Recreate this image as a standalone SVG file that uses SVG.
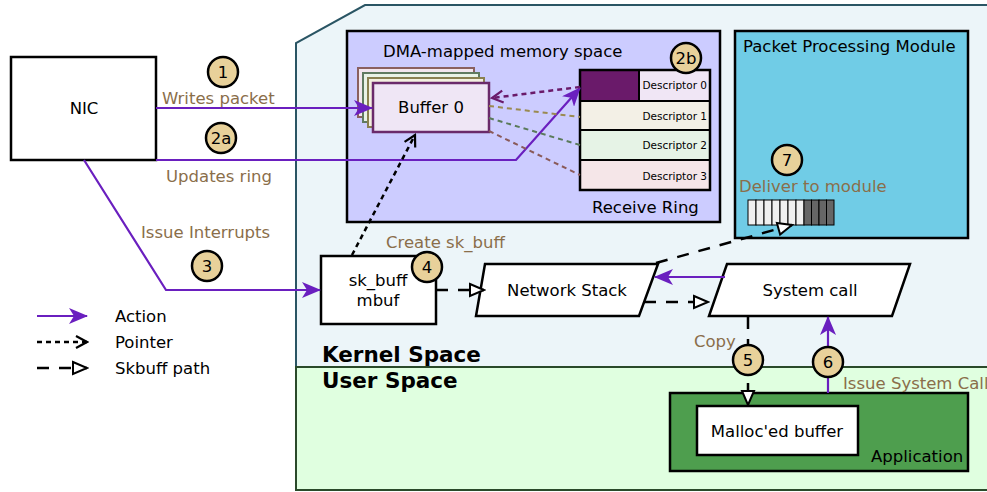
<svg xmlns="http://www.w3.org/2000/svg" width="987" height="492" viewBox="0 0 987 492">
<defs>
<marker id="actA" markerWidth="20" markerHeight="16" refX="18" refY="8" orient="auto" markerUnits="userSpaceOnUse">
<path d="M0,0 L19,8 L0,16 L5,8 Z" fill="#6a1fbf"/>
</marker>
<marker id="ptr" markerWidth="16" markerHeight="16" refX="14" refY="8" orient="auto" markerUnits="userSpaceOnUse">
<path d="M3,2 L14,8 L3,14" fill="none" stroke="#000" stroke-width="2.2"/>
</marker>
<marker id="ptrP" markerWidth="16" markerHeight="16" refX="14" refY="8" orient="auto" markerUnits="userSpaceOnUse">
<path d="M3,2 L14,8 L3,14" fill="none" stroke="#6a1a6a" stroke-width="2.2"/>
</marker>
<marker id="skb" markerWidth="18" markerHeight="16" refX="16" refY="8" orient="auto" markerUnits="userSpaceOnUse">
<path d="M2,2 L16,8 L2,14 Z" fill="#fff" stroke="#000" stroke-width="2"/>
</marker>
</defs>
<style>
text{font-family:"DejaVu Sans",sans-serif;font-size:16.5px;fill:#000}
.lbl{fill:#8a6e4a}
.node{fill:#fff;stroke:#000;stroke-width:2.5}
.num{fill:#e8d19a;stroke:#000;stroke-width:2.5}
.act{fill:none;stroke:#6a1fbf;stroke-width:2.2}
.ptr{fill:none;stroke:#000;stroke-width:2.5;stroke-dasharray:5,4}
.skb{fill:none;stroke:#000;stroke-width:2.5;stroke-dasharray:12,10}
.desc{font-size:10.5px}
.big{font-size:21.5px;font-weight:bold}
</style>

<g id="kernel-space">
<path d="M296,490 L296,43 L365,5 L990,5 L990,367 L296,367" fill="#ecf5f9" stroke="#2a5564" stroke-width="2"/>
</g>
<g id="user-space">
<rect x="296" y="367" width="694" height="123" fill="#e0ffe0" stroke="#2a4a2a" stroke-width="2"/>
</g>

<g id="dma">
<rect x="347" y="31" width="373" height="191" fill="#ccccff" stroke="#000" stroke-width="2.5"/>
<text x="383" y="57">DMA-mapped memory space</text>
</g>

<g id="buffers">
<rect x="358" y="68" width="116" height="49" fill="#f3e6ee" stroke="#8a6060" stroke-width="2"/>
<rect x="363" y="73" width="116" height="49" fill="#e9f2e6" stroke="#607a60" stroke-width="2"/>
<rect x="368" y="78" width="116" height="49" fill="#f3f0e0" stroke="#8a8050" stroke-width="2"/>
<rect x="373" y="83" width="116" height="49" fill="#efe6f5" stroke="#6a2a6a" stroke-width="2.5"/>
<text x="431" y="113" text-anchor="middle">Buffer 0</text>
</g>

<g id="receive-ring">
<rect x="580" y="70" width="130" height="31" fill="#f0e6f5" stroke="#000" stroke-width="2"/>
<rect x="580" y="70" width="59" height="31" fill="#6a1a6a" stroke="#000" stroke-width="2"/>
<rect x="580" y="101" width="130" height="29" fill="#f3f0e6" stroke="#000" stroke-width="2"/>
<rect x="580" y="130" width="130" height="30" fill="#e6f3e6" stroke="#000" stroke-width="2"/>
<rect x="580" y="160" width="130" height="30" fill="#f5e6e8" stroke="#000" stroke-width="2"/>
<rect x="580" y="70" width="130" height="120" fill="none" stroke="#000" stroke-width="2.5"/>
<text class="desc" x="707" y="89" text-anchor="end">Descriptor 0</text>
<text class="desc" x="707" y="120" text-anchor="end">Descriptor 1</text>
<text class="desc" x="707" y="149" text-anchor="end">Descriptor 2</text>
<text class="desc" x="707" y="180" text-anchor="end">Descriptor 3</text>
<text x="592" y="213">Receive Ring</text>
</g>

<g id="ppm">
<rect x="735" y="31" width="233" height="207" fill="#70cce6" stroke="#000" stroke-width="2.5"/>
<text x="743" y="52">Packet Processing Module</text>
<text class="lbl" x="739" y="192">Deliver to module</text>
<g id="queue" stroke="#000" stroke-width="1">
<rect x="748" y="200" width="8" height="25" fill="#f0f0f0"/>
<rect x="756" y="200" width="8" height="25" fill="#f0f0f0"/>
<rect x="764" y="200" width="8" height="25" fill="#f0f0f0"/>
<rect x="772" y="200" width="8" height="25" fill="#f0f0f0"/>
<rect x="780" y="200" width="8" height="25" fill="#f0f0f0"/>
<rect x="788" y="200" width="8" height="25" fill="#f0f0f0"/>
<rect x="796" y="200" width="8" height="25" fill="#f0f0f0"/>
<rect x="804" y="200" width="7.5" height="25" fill="#666"/>
<rect x="811.5" y="200" width="7.5" height="25" fill="#666"/>
<rect x="819" y="200" width="7.5" height="25" fill="#666"/>
<rect x="826.5" y="200" width="7.5" height="25" fill="#666"/>
</g>
</g>

<g id="nic">
<rect class="node" x="11" y="57" width="145" height="103"/>
<text x="84" y="114" text-anchor="middle">NIC</text>
</g>

<g id="skbuff">
<rect class="node" x="321" y="256" width="115" height="68"/>
<text x="378" y="286" text-anchor="middle">sk_buff</text>
<text x="378" y="306" text-anchor="middle">mbuf</text>
</g>

<g id="netstack">
<polygon class="node" points="485,264 658,264 639,316 476,316"/>
<text x="567" y="296" text-anchor="middle">Network Stack</text>
</g>

<g id="syscall">
<polygon class="node" points="727,264 910,264 892,316 709,316"/>
<text x="810" y="296" text-anchor="middle">System call</text>
</g>

<g id="application">
<rect x="670" y="393" width="298" height="78" fill="#4e9e4e" stroke="#000" stroke-width="2.5"/>
<text x="871" y="462">Application</text>
</g>
<g id="malloc">
<rect class="node" x="697" y="406" width="161" height="49"/>
<text x="777" y="437" text-anchor="middle">Malloc'ed buffer</text>
</g>

<g id="connectors">
<line class="act" x1="156" y1="108" x2="372" y2="108" marker-end="url(#actA)"/>
<polyline class="act" points="156,160 516,160 580,88" marker-end="url(#actA)"/>
<polyline class="act" points="84,160 166,290 320,290" marker-end="url(#actA)"/>
<line x1="580" y1="87" x2="492" y2="98" stroke="#6a1a6a" stroke-width="2.5" stroke-dasharray="5,4" marker-end="url(#ptrP)"/>
<line x1="489" y1="106" x2="580" y2="117" stroke="#9a8a50" stroke-width="2" stroke-dasharray="5,4"/>
<line x1="489" y1="118" x2="580" y2="145" stroke="#5a7a5a" stroke-width="2" stroke-dasharray="5,4"/>
<line x1="489" y1="131" x2="580" y2="175" stroke="#8a5a5a" stroke-width="2" stroke-dasharray="5,4"/>
<line class="ptr" x1="352" y1="255" x2="415" y2="135" marker-end="url(#ptr)"/>
<line class="skb" x1="436" y1="290" x2="484" y2="290" marker-end="url(#skb)"/>
<line class="act" x1="725" y1="277" x2="655" y2="277" marker-end="url(#actA)"/>
<line class="skb" x1="644" y1="302" x2="708" y2="302" marker-end="url(#skb)"/>
<line class="skb" x1="656" y1="263" x2="792" y2="225" marker-end="url(#skb)"/>
<line class="skb" x1="748" y1="317" x2="748" y2="405" marker-end="url(#skb)"/>
<line class="act" x1="828" y1="393" x2="828" y2="317" marker-end="url(#actA)"/>
</g>

<g id="labels">
<text class="lbl" x="162" y="104">Writes packet</text>
<text class="lbl" x="166" y="182">Updates ring</text>
<text class="lbl" x="141" y="238">Issue Interrupts</text>
<text class="lbl" x="386" y="248">Create sk_buff</text>
<text class="lbl" x="694" y="347">Copy</text>
<text class="lbl" x="843" y="389">Issue System Call</text>
<text class="big" x="322" y="362">Kernel Space</text>
<text class="big" x="322" y="388">User Space</text>
</g>

<g id="steps">
<circle class="num" cx="223" cy="72" r="15"/><text x="223" y="78" text-anchor="middle">1</text>
<circle class="num" cx="221" cy="138" r="15"/><text x="221" y="144" text-anchor="middle">2a</text>
<circle class="num" cx="686" cy="58" r="15"/><text x="686" y="64" text-anchor="middle">2b</text>
<circle class="num" cx="207" cy="266" r="15"/><text x="207" y="272" text-anchor="middle">3</text>
<circle class="num" cx="427" cy="267" r="15"/><text x="427" y="273" text-anchor="middle">4</text>
<circle class="num" cx="748" cy="360" r="15"/><text x="748" y="366" text-anchor="middle">5</text>
<circle class="num" cx="828" cy="362" r="15"/><text x="828" y="368" text-anchor="middle">6</text>
<circle class="num" cx="787" cy="160" r="15"/><text x="787" y="166" text-anchor="middle">7</text>
</g>

<g id="legend">
<line class="act" x1="37" y1="316" x2="87" y2="316" marker-end="url(#actA)"/>
<text x="115" y="322">Action</text>
<line class="ptr" x1="37" y1="342" x2="87" y2="342" marker-end="url(#ptr)"/>
<text x="115" y="348">Pointer</text>
<line class="skb" x1="37" y1="368" x2="87" y2="368" marker-end="url(#skb)"/>
<text x="115" y="374">Skbuff path</text>
</g>
</svg>
